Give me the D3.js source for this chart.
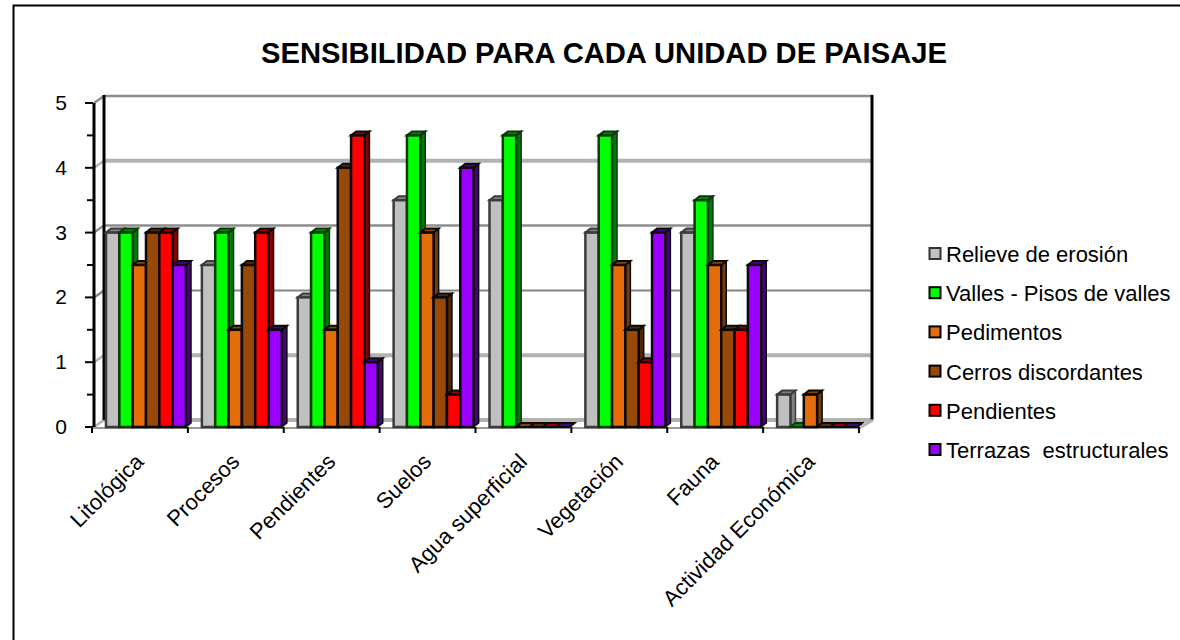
<!DOCTYPE html>
<html><head><meta charset="utf-8">
<script src="https://cdn.jsdelivr.net/npm/d3@7"></script>
<style>html,body{margin:0;padding:0;background:#fff}svg{display:block}text{font-family:"Liberation Sans",Arial,sans-serif;fill:#000}</style>
</head><body><svg id="c" width="1180" height="640"></svg>
<script>
const titleText = "SENSIBILIDAD PARA CADA UNIDAD DE PAISAJE";
const categories = ["Litológica","Procesos","Pendientes","Suelos","Agua superficial","Vegetación","Fauna","Actividad Económica"];
const seriesNames = ["Relieve de erosión","Valles - Pisos de valles","Pedimentos","Cerros discordantes","Pendientes","Terrazas  estructurales"];
const relieve = [3,2.5,2,3.5,3.5,3,3,0.5];
const valles = [3,3,3,4.5,4.5,4.5,3.5,0];
const pedimentos = [2.5,1.5,1.5,3,0,2.5,2.5,0.5];
const cerros = [3,2.5,4,2,0,1.5,1.5,0];
const pendientes = [3,3,4.5,0.5,0,1,1.5,0];
const terrazas = [2.5,1.5,1,4,0,3,2.5,0];
const yTicks = [0,1,2,3,4,5];
const minorTicks = [0,0.5,1,1.5,2,2.5,3,3.5,4,4.5,5];
const colors = ["#c0c0c0","#00ff00","#e46c0a","#984807","#ff0000","#9900ff"];
const sideColors = ["#808080","#007a00","#7a3a05","#4f2503","#8b0000","#4b0082"];
const topColors = ["#808080","#008a00","#8a4206","#5c2c04","#990000","#4f0088"];
const strokes = ["#3c3c3c","#0a3a0a","#0a0a0a","#0a0a0a","#0a0a0a","#0a0a0a"];
const gridColors = {0:"#b2b2b2",1:"#b2b2b2",2:"#868686",3:"#8c8c8c",4:"#b2b2b2",5:"#8c8c8c"};
const gridWidths = {0:4,1:4,2:2,3:2.5,4:4,5:2.5};
const values = [relieve,valles,pedimentos,cerros,pendientes,terrazas];

const svg = d3.select("#c");
const dx = 10, dy = 7;           // wall offset
const bd = 5;                    // bar depth
const y = d3.scaleLinear().domain([0,5]).range([427,103]);
const x = d3.scaleBand().domain(categories).range([92,859]).paddingInner(0).paddingOuter(0);
const inner = d3.scaleBand().domain(d3.range(6)).range([14,94]);

// frame
svg.append("path").attr("d","M13.5,640V5.5H1180").attr("fill","none").attr("stroke","#000").attr("stroke-width",2);

// title
svg.append("text").attr("x",604).attr("y",63).attr("text-anchor","middle").attr("font-size",29.2).attr("font-weight","bold").text(titleText);

// walls and gridlines
yTicks.forEach(v=>{
  svg.append("line").attr("x1",x.range()[0]+2+dx).attr("x2",873).attr("y1",y(v)-dy).attr("y2",y(v)-dy)
    .attr("stroke",gridColors[v]).attr("stroke-width",gridWidths[v]);
  svg.append("line").attr("x1",94).attr("x2",94+dx).attr("y1",y(v)).attr("y2",y(v)-dy)
    .attr("stroke",gridColors[v]).attr("stroke-width",2.5);
});
svg.append("line").attr("x1",104).attr("x2",104).attr("y1",y(5)-dy-1).attr("y2",y(0)-dy).attr("stroke","#000").attr("stroke-width",3);
svg.append("line").attr("x1",872).attr("x2",872).attr("y1",y(5)-dy-1).attr("y2",y(0)-dy).attr("stroke","#000").attr("stroke-width",3);
svg.append("line").attr("x1",861).attr("x2",873).attr("y1",y(0)).attr("y2",y(0)-dy).attr("stroke","#b2b2b2").attr("stroke-width",3);
// floor front
svg.append("line").attr("x1",92).attr("x2",861).attr("y1",y(0)+1).attr("y2",y(0)+1).attr("stroke","#9a9a9a").attr("stroke-width",2);

// left axis
svg.append("line").attr("x1",94).attr("x2",94).attr("y1",y(5)).attr("y2",y(0)).attr("stroke","#000").attr("stroke-width",3);
minorTicks.forEach(v=>{
  const major = Number.isInteger(v);
  svg.append("line").attr("x1",major?85:87).attr("x2",93).attr("y1",y(v)).attr("y2",y(v)).attr("stroke","#000").attr("stroke-width",2);
});
yTicks.forEach(v=>svg.append("text").attr("x",67).attr("y",y(v)+7).attr("text-anchor","end").attr("font-size",21).text(v));

// category ticks
const catEdges = categories.map(c=>x(c)).concat([x.range()[1]]);
catEdges.forEach(e=>svg.append("line").attr("x1",e).attr("x2",e).attr("y1",y(0)).attr("y2",y(0)+6).attr("stroke","#000").attr("stroke-width",2));

// bars
categories.forEach((c,ci)=>{
  const g = svg.append("g");
  values.forEach((s,si)=>{
    const v = s[ci];
    const l = x(c)+inner(si), w = inner.bandwidth(), r = l+w, t = y(v), b = y(0);
    const top = `M${l},${t}L${l+bd},${t-bd+1}L${r+bd},${t-bd+1}L${r},${t}Z`;
    const side = `M${r},${t}L${r+bd},${t-bd+1}L${r+bd},${b-bd+1}L${r},${b}Z`;
    g.append("path").attr("d",side).attr("fill",sideColors[si]).attr("stroke",strokes[si]).attr("stroke-width",1.5);
    g.append("path").attr("d",top).attr("fill",topColors[si]).attr("stroke",strokes[si]).attr("stroke-width",2);
    g.append("rect").attr("x",l).attr("y",t).attr("width",w).attr("height",b-t)
      .attr("fill",colors[si]).attr("stroke",strokes[si]).attr("stroke-width",2.5);
  });
});

// category labels
categories.forEach(c=>{
  const px = x(c)+x.bandwidth()/2+ 5;
  svg.append("text").attr("transform",`translate(${px},${y(0)+36}) rotate(-45)`).attr("text-anchor","end").attr("font-size",22).text(c);
});

// legend
const ly = d3.scaleLinear().domain([0,5]).range([254,450]);
seriesNames.forEach((n,i)=>{
  svg.append("rect").attr("x",929.5).attr("y",ly(i)-6).attr("width",11).attr("height",11)
    .attr("fill",colors[i]).attr("stroke",i==0?"#333":"#000").attr("stroke-width",2);
  svg.append("text").attr("x",946).attr("y",ly(i)+8).attr("font-size",22).style("white-space","pre").text(n);
});
</script></body></html>
